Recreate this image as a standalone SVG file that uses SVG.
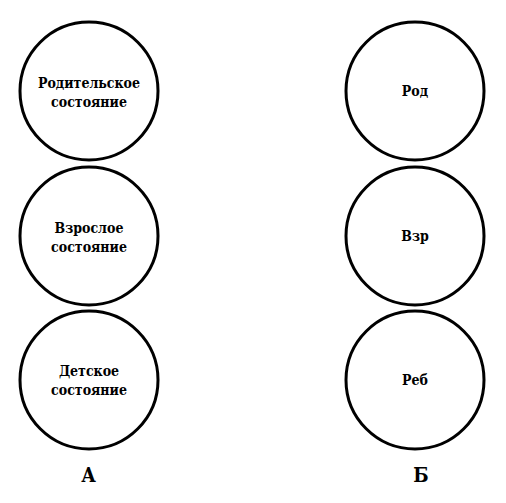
<svg xmlns="http://www.w3.org/2000/svg" width="506" height="503" viewBox="0 0 506 503">
<style>
.c{fill:#fff;stroke:#000;stroke-width:3}
.t{font-family:"DejaVu Serif Condensed","DejaVu Serif",serif;font-weight:bold;font-size:14px;fill:#000;text-anchor:middle}
.L{font-family:"DejaVu Serif Condensed","DejaVu Serif",serif;font-weight:bold;font-size:20px;fill:#000;text-anchor:middle}
</style>
<rect width="506" height="503" fill="#fff"/>
<g id="connectors"/>
<g id="parent-a"><circle class="c" cx="89" cy="91" r="69"/><text class="t" x="89" y="88">Родительское</text><text class="t" x="89" y="107">состояние</text></g>
<g id="adult-a"><circle class="c" cx="89" cy="236" r="69"/><text class="t" x="89" y="233">Взрослое</text><text class="t" x="89" y="252">состояние</text></g>
<g id="child-a"><circle class="c" cx="89" cy="380" r="69"/><text class="t" x="89" y="376">Детское</text><text class="t" x="89" y="395">состояние</text></g>
<g id="parent-b"><circle class="c" cx="415" cy="91" r="69"/><text class="t" x="415" y="96">Род</text></g>
<g id="adult-b"><circle class="c" cx="415" cy="236" r="69"/><text class="t" x="415" y="241">Взр</text></g>
<g id="child-b"><circle class="c" cx="415" cy="380" r="69"/><text class="t" x="415" y="385">Реб</text></g>
<text class="L" x="88.5" y="482">А</text>
<text class="L" x="421" y="482">Б</text>
</svg>
